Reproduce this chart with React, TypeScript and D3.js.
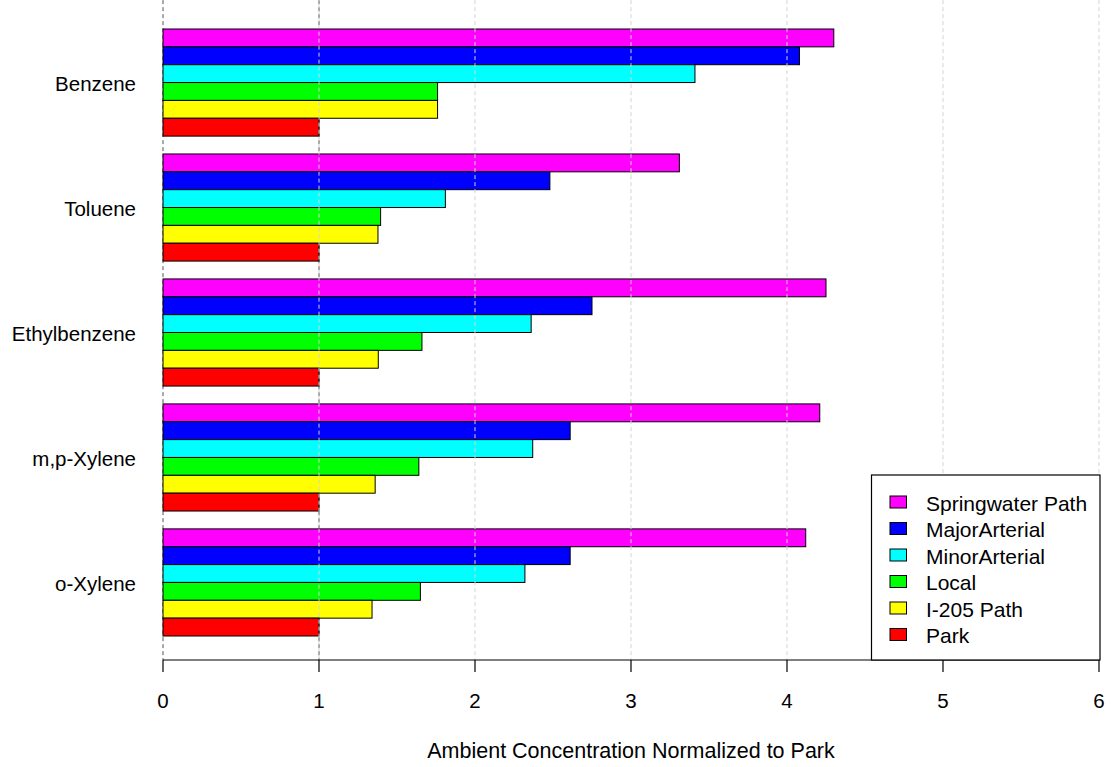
import React from "react";
import * as d3 from "d3";

const categories = ["Benzene", "Toluene", "Ethylbenzene", "m,p-Xylene", "o-Xylene"];
const seriesNames = ["Springwater Path", "MajorArterial", "MinorArterial", "Local", "I-205 Path", "Park"];
const seriesColors = ["#FF00FF", "#0000FF", "#00FFFF", "#00FF00", "#FFFF00", "#FF0000"];
const springwater = [4.30, 3.31, 4.25, 4.21, 4.12];
const majorArterial = [4.08, 2.48, 2.75, 2.61, 2.61];
const minorArterial = [3.41, 1.81, 2.36, 2.37, 2.32];
const local = [1.76, 1.395, 1.66, 1.64, 1.65];
const i205 = [1.76, 1.378, 1.38, 1.36, 1.34];
const park = [1.0, 1.0, 1.0, 1.0, 1.0];
const xTicks = [0, 1, 2, 3, 4, 5, 6];

const seriesValues = [springwater, majorArterial, minorArterial, local, i205, park];

const W = 1111;
const H = 767;
const FONT = "'Liberation Sans', Arial, sans-serif";

export default function App() {
  const x = d3.scaleLinear().domain([0, 6]).range([163, 1099]);
  const nUnits = categories.length * (seriesNames.length + 1);
  const y = d3.scaleLinear().domain([0, nUnits]).range([11.15, 636]);
  const plotTop = y(-nUnits * 0.04);
  const plotBottom = 660;
  const barTop = (g: number, i: number) => y(g * 7 + 1 + i);
  const bh = y(1) - y(0);

  const bars: React.ReactNode[] = [];
  categories.forEach((c, g) => {
    seriesValues.forEach((vals, i) => {
      bars.push(
        <rect
          key={`${g}-${i}`}
          x={x(0)}
          y={barTop(g, i)}
          width={x(vals[g]) - x(0)}
          height={bh}
          fill={seriesColors[i]}
          stroke="#000"
          strokeWidth={1}
        />
      );
    });
  });

  const legendX0 = 871.5;
  const legendX1 = 1100;
  const legendY0 = 475;
  const legendY1 = 660;
  const rowY = d3.scaleLinear().domain([0, 5]).range([502, 634.5]);

  return (
    <svg width={W} height={H} style={{ position: "absolute", left: 0, top: 0, fontFamily: FONT }}>
      <rect width={W} height={H} fill="#fff" />
      {[0, 1].map((v) => (
        <line key={`d${v}`} x1={x(v)} x2={x(v)} y1={plotTop} y2={plotBottom} stroke="#555" strokeWidth={1} strokeDasharray="4,3" />
      ))}
      {bars}
      {xTicks.filter((v) => v > 0).map((v) => (
        <line key={`g${v}`} x1={x(v)} x2={x(v)} y1={plotTop} y2={plotBottom} stroke="#d3d3d3" strokeWidth={1} strokeDasharray="4,3" strokeDashoffset={v === 1 ? 3.5 : 0} />
      ))}
      {categories.map((c, g) => (
        <text key={c} x={136} y={(barTop(g, 0) + barTop(g, 5) + bh) / 2 + 1} textAnchor="end" dominantBaseline="central" fontSize={20.5} fill="#000">
          {c}
        </text>
      ))}
      <line x1={x(0)} x2={x(6)} y1={660} y2={660} stroke="#000" strokeWidth={1.2} />
      {xTicks.map((v) => (
        <g key={`t${v}`}>
          <line x1={x(v)} x2={x(v)} y1={660} y2={672} stroke="#000" strokeWidth={1.2} />
          <text x={x(v)} y={708} textAnchor="middle" fontSize={20.5} fill="#000">{v}</text>
        </g>
      ))}
      <text x={631} y={758} textAnchor="middle" fontSize={21.5} fill="#000">
        Ambient Concentration Normalized to Park
      </text>
      <rect x={legendX0} y={legendY0} width={legendX1 - legendX0} height={legendY1 - legendY0} fill="#fff" stroke="#000" strokeWidth={1.2} />
      {seriesNames.map((n, i) => (
        <g key={n}>
          <rect x={890} y={rowY(i) - 6} width={16.5} height={12} fill={seriesColors[i]} stroke="#000" strokeWidth={1} />
          <text x={926} y={rowY(i) + 1} dominantBaseline="central" fontSize={21} fill="#000">{n}</text>
        </g>
      ))}
    </svg>
  );
}
